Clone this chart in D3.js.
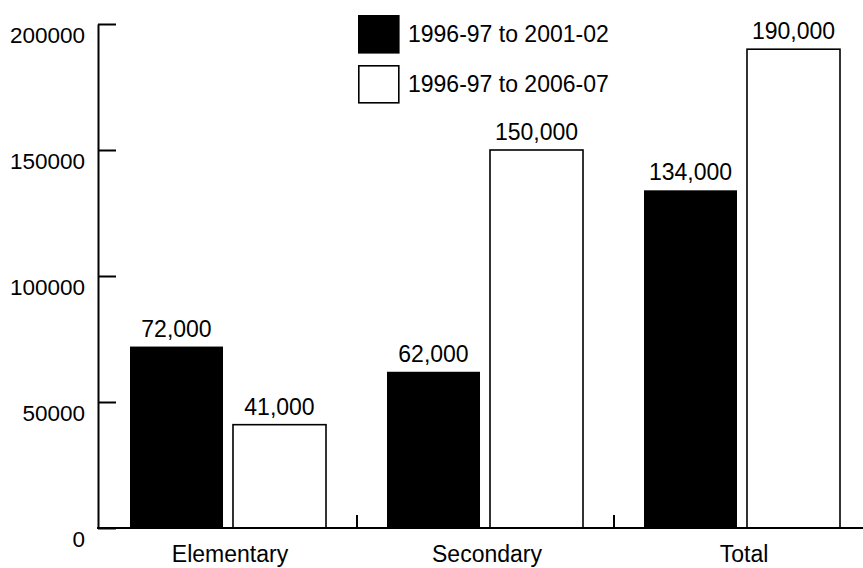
<!DOCTYPE html>
<html>
<head>
<meta charset="utf-8">
<script src="https://cdn.jsdelivr.net/npm/d3@7"></script>
<style>
  html, body { margin: 0; padding: 0; background: #fff; }
  svg { display: block; font-family: "Liberation Sans", Arial, Helvetica, sans-serif; }
</style>
</head>
<body>
<svg id="chart" width="863" height="568"></svg>
<script>
// ---- data ----
const categories = ["Elementary", "Secondary", "Total"];
const seriesNames = ["1996-97 to 2001-02", "1996-97 to 2006-07"];
const series1 = [72000, 62000, 134000];   // 1996-97 to 2001-02
const series2 = [41000, 150000, 190000];  // 1996-97 to 2006-07
const valueLabels1 = ["72,000", "62,000", "134,000"];
const valueLabels2 = ["41,000", "150,000", "190,000"];
const yTicks = [0, 50000, 100000, 150000, 200000];

// ---- layout ----
const svg = d3.select("#chart");
const fills = ["#000", "#fff"];

const y = d3.scaleLinear().domain([0, 200000]).range([528, 24]);
const x0 = d3.scaleBand().domain(categories).range([100, 871]).padding(0);
const x1 = d3.scaleBand().domain(seriesNames).range([30, 226]).paddingInner(0.097).paddingOuter(0);

const rows = categories.map((c, i) => ({
  cat: c,
  vals: [
    { s: seriesNames[0], v: series1[i], label: valueLabels1[i], idx: 0 },
    { s: seriesNames[1], v: series2[i], label: valueLabels2[i], idx: 1 }
  ]
}));

// bars
const g = svg.append("g");
const groups = g.selectAll("g.cat").data(rows).join("g")
  .attr("class", "cat")
  .attr("transform", d => `translate(${x0(d.cat)},0)`);

groups.selectAll("rect").data(d => d.vals).join("rect")
  .attr("x", d => x1(d.s))
  .attr("y", d => y(d.v))
  .attr("width", x1.bandwidth())
  .attr("height", d => y(0) - y(d.v))
  .attr("fill", d => fills[d.idx])
  .attr("stroke", "#000")
  .attr("stroke-width", d => d.idx === 1 ? 1.6 : 0);

groups.selectAll("text.val").data(d => d.vals).join("text")
  .attr("class", "val")
  .attr("x", d => x1(d.s) + x1.bandwidth() / 2)
  .attr("y", d => y(d.v) - 10)
  .attr("text-anchor", "middle")
  .attr("font-size", 23)
  .attr("fill", "#000")
  .text(d => d.label);

// y axis
const yAxis = d3.axisLeft(y).tickValues(yTicks).tickFormat(d3.format("d"))
  .tickSizeInner(-18).tickSizeOuter(0).tickPadding(13);
const ya = svg.append("g").attr("transform", "translate(98,0)").call(yAxis);
ya.attr("font-size", null).attr("font-family", null);
ya.select(".domain").attr("stroke", "#000").attr("stroke-width", 2);
ya.selectAll(".tick line").attr("stroke", "#000").attr("stroke-width", 2);
ya.selectAll(".tick text")
  .style("font-size", "22.5px")
  .style("font-family", "'Liberation Sans', Arial, sans-serif")
  .attr("fill", "#000")
  .attr("dy", "0.82em");

// x axis
svg.append("line")
  .attr("x1", 97).attr("x2", 863)
  .attr("y1", y(0)).attr("y2", y(0))
  .attr("stroke", "#000").attr("stroke-width", 2);

svg.selectAll("line.xtick").data(categories.slice(1)).join("line")
  .attr("class", "xtick")
  .attr("x1", d => x0(d)).attr("x2", d => x0(d))
  .attr("y1", y(0)).attr("y2", y(0) - 13)
  .attr("stroke", "#000").attr("stroke-width", 2);

svg.selectAll("text.cat").data(categories).join("text")
  .attr("class", "cat")
  .attr("x", d => x0(d) + x1.range()[0] + (x1.range()[1] - x1.range()[0]) / 2 + 2)
  .attr("y", 562)
  .attr("text-anchor", "middle")
  .attr("font-size", 23)
  .attr("fill", "#000")
  .text(d => d);

// legend
const legend = svg.append("g").attr("transform", "translate(358,15)");
const li = legend.selectAll("g").data(seriesNames).join("g")
  .attr("transform", (d, i) => `translate(0,${i * 50})`);
li.append("rect")
  .attr("x", 0.8).attr("y", 0.8).attr("width", 40).attr("height", 37)
  .attr("fill", (d, i) => fills[i])
  .attr("stroke", "#000").attr("stroke-width", 1.6);
li.append("text")
  .attr("x", 50).attr("y", 27)
  .attr("font-size", 23)
  .attr("fill", "#000")
  .text(d => d);
</script>
</body>
</html>
